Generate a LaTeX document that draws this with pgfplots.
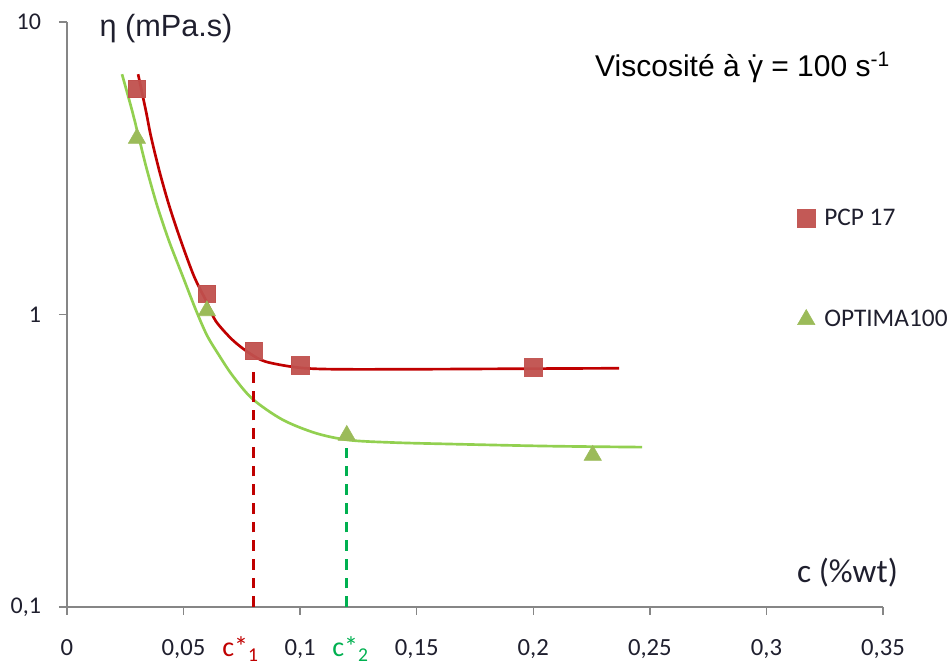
\documentclass[border=0pt]{standalone}
\usepackage{fontspec}
\usepackage{pgfplots}
\pgfplotsset{compat=1.18}
\setmainfont{Carlito}
\newfontfamily\arial{Liberation Sans}
\definecolor{redline}{HTML}{C00000}
\definecolor{redmark}{HTML}{C0504D}
\definecolor{greenline}{HTML}{92D050}
\definecolor{greenmark}{HTML}{9BBB59}
\definecolor{greendash}{HTML}{00B050}
\definecolor{axgray}{HTML}{868686}
\definecolor{txt}{HTML}{1F1F2E}

\pgfplotstableread{
x y
0.030 5.9
0.060 1.18
0.080 0.75
0.100 0.67
0.200 0.66
}\pcp

\pgfplotstableread{
x y
0.030 4.0
0.060 1.03
0.120 0.386
0.2255 0.330
}\optima

\pgfplotstableread{
x y
0.0305 6.63
0.0340 4.90
0.0359 4.10
0.0395 3.12
0.0438 2.36
0.0488 1.79
0.0545 1.35
0.0600 1.10
0.0638 0.95
0.0709 0.82
0.0780 0.74
0.0852 0.69
0.0995 0.658
0.1150 0.650
0.1500 0.650
0.2000 0.653
0.2368 0.655
}\pcpfit

\pgfplotstableread{
x y
0.0236 6.63
0.0280 4.95
0.0316 3.80
0.0344 3.10
0.0387 2.35
0.0438 1.78
0.0495 1.36
0.0552 1.04
0.0600 0.85
0.0650 0.73
0.0709 0.62
0.0795 0.515
0.0924 0.437
0.1067 0.393
0.1210 0.372
0.1400 0.365
0.1626 0.361
0.2055 0.355
0.2467 0.352
}\optimafit

\begin{document}
\begin{tikzpicture}[x=1pt,y=1pt]
\path[use as bounding box] (-50.25,-44.25) rectangle (663,455.25);
\begin{axis}[
  at={(0,0)}, anchor=south west,
  scale only axis, width=612pt, height=438.75pt,
  xmin=0, xmax=0.35, ymin=0.1, ymax=10, ymode=log,
  axis x line=bottom, axis y line=left,
  axis line style={-, draw=axgray, line width=1pt},
  tick align=outside, major tick length=6pt, minor tick length=0pt,
  tick style={axgray, line width=1pt},
  xtick={0,0.05,0.1,0.15,0.2,0.25,0.3,0.35},
  xticklabels={0,{0,05},{0,1},{0,15},{0,2},{0,25},{0,3},{0,35}},
  ytick={0.1,1,10}, yticklabels={{0,1},1,10},
  x tick label style={font=\fontsize{18.5}{20}\selectfont, text=txt, yshift=-15pt},
  y tick label style={font=\fontsize{18}{20}\selectfont, text=txt, xshift=-10pt},
  clip=false,
  legend style={at={(rel axis cs:0.895,0.685)}, anchor=north west, draw=none, fill=none,
    font=\fontsize{19}{21}\selectfont, row sep=58pt, inner sep=0pt,
    nodes={text=txt}, /tikz/every odd column/.style={column sep=5pt}},
  legend cell align=left,
  legend image code/.code={\draw[mark repeat=2,mark phase=2,#1] plot coordinates {(0cm,0cm) (0.22cm,0cm) (0.44cm,0cm)};},
]
\addplot[redline, line width=2pt, smooth, tension=0.5, forget plot] table {\pcpfit};
\addplot[greenline, line width=2pt, smooth, tension=0.5, forget plot] table {\optimafit};
\addplot[redline, line width=2pt, dash pattern=on 8pt off 6pt, forget plot] coordinates {(0.08,0.1) (0.08,0.65)};
\addplot[greendash, line width=2pt, dash pattern=on 8pt off 6pt, forget plot] coordinates {(0.12,0.1) (0.12,0.35)};
\addplot[only marks, mark=square*, mark size=6.5pt, mark options={draw=redmark, fill=redmark, opacity=0.95}] table {\pcp};
\addlegendentry{PCP 17}
\addplot[only marks, mark=triangle*, mark size=7.5pt, mark options={draw=greenmark, fill=greenmark}] table {\optima};
\addlegendentry{OPTIMA100}

\node[anchor=base west, font=\arial\fontsize{22.5}{25}\selectfont, inner sep=0pt] at (rel axis cs:0.647,0.906)
  {Viscosité à \accent"02D9 γ = 100 s\textsuperscript{-1}};
\node[anchor=base west, font=\arial\fontsize{23}{25}\selectfont, text=txt, inner sep=0pt] at (rel axis cs:0.0395,0.976) {η (mPa.s)};
\node[anchor=base west, font=\fontsize{25}{27}\selectfont, text=txt, inner sep=0pt] at (rel axis cs:0.8945,0.0417) {c (\%wt)};
\node[anchor=base west, font=\fontsize{21}{23}\selectfont, text=redline, inner sep=0pt] at ([yshift=-37.5pt]axis cs:0.0665,0.1) {c*\textsubscript{1}};
\node[anchor=base west, font=\fontsize{21}{23}\selectfont, text=greendash, inner sep=0pt] at ([yshift=-37.5pt]axis cs:0.1137,0.1) {c*\textsubscript{2}};
\end{axis}
\end{tikzpicture}
\end{document}
